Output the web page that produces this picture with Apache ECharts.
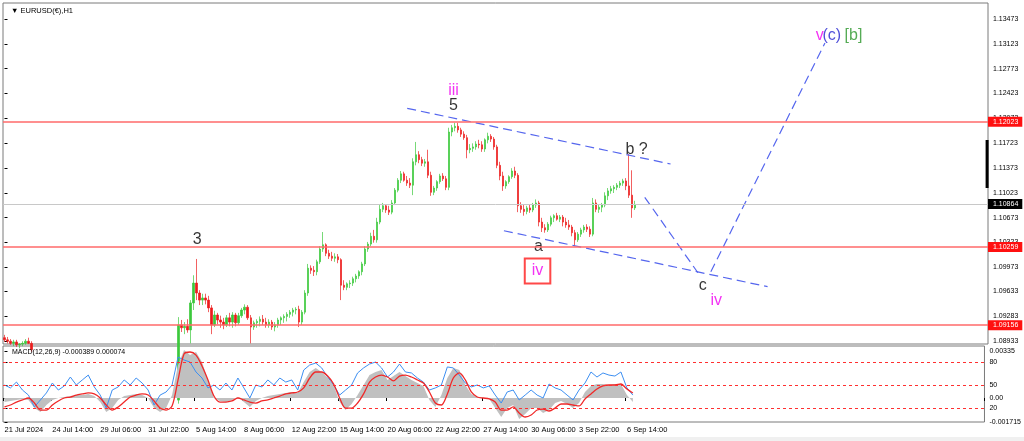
<!DOCTYPE html>
<html><head><meta charset="utf-8">
<script src="https://cdn.jsdelivr.net/npm/echarts@6/dist/echarts.min.js"></script>
<style>html,body{margin:0;padding:0;background:#f0f0f0;}#c{width:1024px;height:437px;background:#fff;}</style>
</head><body><div id="c"></div>
<script>
// ---------- DATA ----------
const symbolTitle = '▼ EURUSD(€),H1';
const macdTitle = 'MACD(12,26,9) -0.000389 0.000074';
const timeTicks = ['21 Jul 2024','24 Jul 14:00','29 Jul 06:00','31 Jul 22:00','5 Aug 14:00','8 Aug 06:00','12 Aug 22:00','15 Aug 14:00','20 Aug 06:00','22 Aug 22:00','27 Aug 14:00','30 Aug 06:00','3 Sep 22:00','6 Sep 14:00'];
const priceTicks = [1.08933,1.09283,1.09633,1.09973,1.10323,1.10673,1.11023,1.11373,1.11723,1.12073,1.12423,1.12773,1.13123,1.13473];
const levelLines = [1.12023,1.10259,1.09156];
const lastPrice = 1.10864;
const macdTickValues = [-0.001715,-0.000715,0,0.00093,0.002574,0.00335];
const macdTickLabels = ['-0.001715','20','0.00','50','80','0.00335'];
const macdLevels = [0.002574,0.00093,-0.000715];

// 4-hour bars, [open, close, low, high]
const candleOHLC = [
[1.0898,1.0895,1.0892,1.0902],[1.0895,1.0893,1.0890,1.0899],[1.0893,1.0890,1.0888,1.0896],[1.0890,1.0892,1.0886,1.0895],
[1.0892,1.0888,1.0885,1.0895],[1.0888,1.0889,1.0883,1.0890],[1.0889,1.0890,1.0886,1.0893],[1.0890,1.0893,1.0888,1.0896],
[1.0893,1.0890,1.0889,1.0898],[1.0890,1.0881,1.0878,1.0893],[1.0881,1.0870,1.0865,1.0884],[1.0870,1.0855,1.0850,1.0873],
[1.0855,1.0850,1.0846,1.0859],[1.0850,1.0845,1.0841,1.0854],[1.0845,1.0840,1.0836,1.0849],[1.0840,1.0835,1.0829,1.0843],
[1.0835,1.0830,1.0826,1.0839],[1.0830,1.0825,1.0820,1.0834],[1.0825,1.0840,1.0822,1.0843],[1.0840,1.0845,1.0836,1.0850],
[1.0845,1.0850,1.0840,1.0854],[1.0850,1.0860,1.0846,1.0864],[1.0860,1.0865,1.0854,1.0869],[1.0865,1.0855,1.0850,1.0868],
[1.0855,1.0850,1.0846,1.0859],[1.0850,1.0855,1.0847,1.0858],[1.0855,1.0860,1.0851,1.0864],[1.0860,1.0850,1.0846,1.0863],
[1.0850,1.0865,1.0848,1.0869],[1.0865,1.0858,1.0854,1.0868],[1.0858,1.0855,1.0852,1.0861],[1.0855,1.0850,1.0846,1.0858],
[1.0850,1.0840,1.0836,1.0853],[1.0840,1.0830,1.0826,1.0843],[1.0830,1.0820,1.0815,1.0833],[1.0820,1.0825,1.0817,1.0829],
[1.0825,1.0822,1.0818,1.0828],[1.0822,1.0818,1.0814,1.0826],[1.0818,1.0815,1.0811,1.0822],[1.0815,1.0820,1.0812,1.0824],
[1.0820,1.0810,1.0806,1.0823],[1.0810,1.0815,1.0807,1.0819],[1.0815,1.0818,1.0812,1.0821],[1.0818,1.0820,1.0814,1.0824],
[1.0820,1.0810,1.0806,1.0823],[1.0810,1.0825,1.0808,1.0829],[1.0825,1.0830,1.0821,1.0834],[1.0830,1.0825,1.0821,1.0833],
[1.0825,1.0820,1.0816,1.0828],[1.0820,1.0815,1.0811,1.0823],[1.0815,1.0810,1.0806,1.0818],[1.0810,1.0800,1.0795,1.0813],
[1.0800,1.0785,1.0778,1.0803],[1.0785,1.0790,1.0780,1.0794],[1.0790,1.0792,1.0786,1.0796],[1.0792,1.0795,1.0788,1.0799],
[1.0795,1.0800,1.0791,1.0804],[1.0800,1.0810,1.0796,1.0814],[1.0810,1.0916,1.0805,1.0927],[1.0916,1.0912,1.0906,1.0923],
[1.0912,1.0914,1.0903,1.0920],[1.0914,1.0909,1.0905,1.0924],[1.0909,1.0947,1.0890,1.0951],[1.0947,1.0975,1.0937,1.0986],
[1.0975,1.0961,1.0951,1.1009],[1.0961,1.0951,1.0944,1.0965],[1.0951,1.0954,1.0944,1.0960],[1.0954,1.0951,1.0945,1.0960],
[1.0951,1.0940,1.0934,1.0957],[1.0940,1.0916,1.0903,1.0944],[1.0916,1.0930,1.0913,1.0936],[1.0930,1.0923,1.0917,1.0933],
[1.0923,1.0920,1.0912,1.0929],[1.0920,1.0916,1.0910,1.0926],[1.0916,1.0926,1.0913,1.0930],[1.0926,1.0920,1.0914,1.0933],
[1.0920,1.0930,1.0912,1.0934],[1.0930,1.0919,1.0914,1.0933],[1.0919,1.0929,1.0916,1.0933],[1.0929,1.0937,1.0926,1.0940],
[1.0937,1.0941,1.0931,1.0945],[1.0941,1.0926,1.0923,1.0944],[1.0926,1.0913,1.0890,1.0930],[1.0913,1.0919,1.0909,1.0922],
[1.0919,1.0921,1.0912,1.0924],[1.0921,1.0924,1.0914,1.0928],[1.0924,1.0920,1.0916,1.0930],[1.0920,1.0916,1.0912,1.0926],
[1.0916,1.0920,1.0912,1.0924],[1.0920,1.0913,1.0909,1.0923],[1.0913,1.0916,1.0907,1.0920],[1.0916,1.0923,1.0912,1.0926],
[1.0923,1.0926,1.0916,1.0928],[1.0926,1.0928,1.0919,1.0931],[1.0928,1.0931,1.0921,1.0934],[1.0931,1.0934,1.0926,1.0937],
[1.0934,1.0937,1.0928,1.0940],[1.0937,1.0938,1.0931,1.0941],[1.0938,1.0920,1.0913,1.0943],[1.0920,1.0934,1.0916,1.0937],
[1.0934,1.0961,1.0931,1.0965],[1.0961,1.0996,1.0957,1.1002],[1.0996,1.0993,1.0988,1.1000],[1.0993,1.0991,1.0985,1.0999],
[1.0991,1.1005,1.0986,1.1008],[1.1005,1.1023,1.1002,1.1027],[1.1023,1.1029,1.1019,1.1047],[1.1029,1.1017,1.1013,1.1031],
[1.1017,1.1013,1.1009,1.1022],[1.1013,1.1010,1.1006,1.1019],[1.1010,1.1012,1.1005,1.1017],[1.1012,1.1008,1.1003,1.1016],
[1.1008,1.0972,1.0951,1.1010],[1.0972,1.0969,1.0965,1.0979],[1.0969,1.0974,1.0965,1.0976],[1.0974,1.0975,1.0968,1.0979],
[1.0975,1.0981,1.0971,1.0984],[1.0981,1.0985,1.0976,1.0988],[1.0985,1.0991,1.0981,1.0993],[1.0991,1.1002,1.0986,1.1005],
[1.1002,1.1023,1.0999,1.1027],[1.1023,1.1030,1.1019,1.1033],[1.1030,1.1041,1.1027,1.1046],[1.1041,1.1036,1.1032,1.1050],
[1.1036,1.1061,1.1032,1.1067],[1.1061,1.1079,1.1058,1.1085],[1.1079,1.1084,1.1075,1.1088],[1.1084,1.1078,1.1074,1.1086],
[1.1078,1.1075,1.1071,1.1084],[1.1075,1.1088,1.1072,1.1092],[1.1088,1.1106,1.1085,1.1109],[1.1106,1.1120,1.1103,1.1123],
[1.1120,1.1129,1.1116,1.1133],[1.1129,1.1120,1.1118,1.1132],[1.1120,1.1116,1.1112,1.1126],[1.1116,1.1113,1.1109,1.1123],
[1.1113,1.1146,1.1099,1.1151],[1.1146,1.1156,1.1141,1.1174],[1.1156,1.1149,1.1144,1.1161],[1.1149,1.1144,1.1140,1.1153],
[1.1144,1.1146,1.1139,1.1150],[1.1146,1.1127,1.1123,1.1163],[1.1127,1.1103,1.1098,1.1132],[1.1103,1.1109,1.1099,1.1112],
[1.1109,1.1118,1.1105,1.1120],[1.1118,1.1126,1.1115,1.1129],[1.1126,1.1122,1.1119,1.1130],[1.1122,1.1110,1.1106,1.1126],
[1.1110,1.1188,1.1106,1.1194],[1.1188,1.1194,1.1182,1.1198],[1.1194,1.1196,1.1189,1.1201],[1.1196,1.1191,1.1187,1.1201],
[1.1191,1.1185,1.1181,1.1194],[1.1185,1.1180,1.1177,1.1189],[1.1180,1.1163,1.1151,1.1184],[1.1163,1.1165,1.1158,1.1171],
[1.1165,1.1167,1.1160,1.1172],[1.1167,1.1171,1.1163,1.1175],[1.1171,1.1170,1.1165,1.1177],[1.1170,1.1164,1.1160,1.1175],
[1.1164,1.1177,1.1160,1.1179],[1.1177,1.1182,1.1172,1.1187],[1.1182,1.1178,1.1174,1.1185],[1.1178,1.1167,1.1163,1.1181],
[1.1167,1.1141,1.1137,1.1170],[1.1141,1.1126,1.1120,1.1146],[1.1126,1.1112,1.1105,1.1132],[1.1112,1.1118,1.1108,1.1120],
[1.1118,1.1125,1.1115,1.1127],[1.1125,1.1133,1.1122,1.1137],[1.1133,1.1127,1.1123,1.1139],[1.1127,1.1084,1.1075,1.1130],
[1.1084,1.1079,1.1074,1.1089],[1.1079,1.1076,1.1070,1.1085],[1.1076,1.1081,1.1072,1.1084],[1.1081,1.1078,1.1074,1.1086],
[1.1078,1.1085,1.1075,1.1088],[1.1085,1.1088,1.1081,1.1093],[1.1088,1.1061,1.1055,1.1091],[1.1061,1.1053,1.1047,1.1067],
[1.1053,1.1050,1.1046,1.1058],[1.1050,1.1058,1.1047,1.1061],[1.1058,1.1067,1.1055,1.1070],[1.1067,1.1070,1.1061,1.1072],
[1.1070,1.1065,1.1063,1.1074],[1.1065,1.1068,1.1061,1.1071],[1.1068,1.1061,1.1055,1.1071],[1.1061,1.1057,1.1053,1.1067],
[1.1057,1.1054,1.1050,1.1064],[1.1054,1.1046,1.1041,1.1057],[1.1046,1.1036,1.1027,1.1050],[1.1036,1.1044,1.1033,1.1047],
[1.1044,1.1050,1.1040,1.1053],[1.1050,1.1054,1.1046,1.1057],[1.1054,1.1051,1.1047,1.1058],[1.1051,1.1044,1.1040,1.1055],
[1.1044,1.1088,1.1041,1.1095],[1.1088,1.1079,1.1075,1.1093],[1.1079,1.1082,1.1074,1.1086],[1.1082,1.1085,1.1075,1.1088],
[1.1085,1.1098,1.1082,1.1103],[1.1098,1.1105,1.1092,1.1109],[1.1105,1.1108,1.1101,1.1112],[1.1108,1.1110,1.1102,1.1113],
[1.1110,1.1113,1.1106,1.1116],[1.1113,1.1116,1.1109,1.1119],[1.1116,1.1119,1.1112,1.1122],[1.1119,1.1112,1.1106,1.1123],
[1.1112,1.1099,1.1095,1.1157],[1.1099,1.1081,1.1067,1.1134],[1.1081,1.1086,1.1078,1.1091]
];

// MACD panel, one reading every 2nd bar
const macdHist = [
-0.00029,-0.00021,-0.00014,-0.00007,-0.00014,-0.00072,-0.00100,-0.00050,-0.00014,0,
0.00007,0.00014,0.00021,0.00021,0.00029,0.00014,-0.00029,-0.00100,-0.00072,-0.00014,
0.00014,0.00021,0.00029,0.00021,0,-0.00072,-0.00100,-0.00072,0.00021,0.00236,
0.00343,0.00307,0.00329,0.00257,0.00129,0,-0.00021,-0.00029,-0.00014,0.00007,
-0.00029,-0.00064,-0.00021,0,0.00014,0.00021,0.00029,0.00036,0.00043,0.00036,
0.00114,0.00186,0.00215,0.00186,0.00143,0.00093,-0.00029,-0.00086,-0.00043,0.00021,
0.00093,0.00164,0.00186,0.00200,0.00129,0.00157,0.00186,0.00157,0.00129,0.00107,
0.00086,-0.00014,-0.00064,0.00021,0.00143,0.00215,0.00200,0.00093,0.00029,0.00007,
0,-0.00007,-0.00072,-0.00136,-0.00072,-0.00050,-0.00150,-0.00114,-0.00072,-0.00072,
-0.00107,-0.00086,-0.00036,-0.00021,-0.00043,-0.00072,-0.00036,0.00043,0.00086,0.00100,
0.00100,0.00093,0.00100,0.00100,0.00021,-0.00029];
const macdSignal = [
-0.00064,-0.00050,-0.00029,-0.00014,0,-0.00036,-0.00086,-0.00086,-0.00050,-0.00021,
0,0.00007,0.00021,0.00029,0.00036,0.00029,0,-0.00050,-0.00086,-0.00064,
-0.00029,0.00007,0.00021,0.00029,0.00021,-0.00021,-0.00072,-0.00086,-0.00057,0.00129,
0.00315,0.00329,0.00307,0.00229,0.00129,0.00014,-0.00029,-0.00029,-0.00021,0,
-0.00014,-0.00029,-0.00036,-0.00021,-0.00014,0,0.00014,0.00029,0.00036,0.00043,
0.00072,0.00143,0.00186,0.00186,0.00157,0.00100,0,-0.00072,-0.00072,-0.00036,
0.00029,0.00114,0.00150,0.00164,0.00150,0.00122,0.00157,0.00164,0.00150,0.00129,
0.00107,0.00043,-0.00036,-0.00050,0.00029,0.00143,0.00179,0.00129,0.00043,0.00007,
0,-0.00007,-0.00029,-0.00086,-0.00086,-0.00064,-0.00107,-0.00136,-0.00122,-0.00086,
-0.00079,-0.00093,-0.00072,-0.00043,-0.00043,-0.00050,-0.00057,-0.00007,0.00029,0.00064,
0.00086,0.00093,0.00093,0.00100,0.00064,0.00036];
const macdFast = [
0.00093,0.00072,0.00114,0.00057,0.00021,-0.00064,-0.00014,0.00036,0.00107,0.00057,
0.00086,0.00150,0.00093,0.00129,0.00164,0.00079,0.00021,-0.00072,0.00057,0.00079,
0.00129,0.00093,0.00143,0.00107,0.00057,-0.00050,0.00021,0.00043,0.00093,0.00293,
0.00272,0.00257,0.00186,0.00143,0.00072,0.00093,0.00057,0.00107,0.00057,0.00143,
0.00072,0,0.00093,0.00079,0.00129,0.00093,0.00143,0.00114,0.00129,0.00057,
0.00200,0.00236,0.00250,0.00215,0.00150,0.00093,0.00021,0.00057,0.00093,0.00179,
0.00215,0.00243,0.00257,0.00215,0.00150,0.00186,0.00243,0.00186,0.00179,0.00143,
0.00114,0.00057,0.00072,0.00093,0.00222,0.00215,0.00164,0.00107,0.00079,0.00093,
0.00072,0.00086,0.00021,-0.00036,0.00043,0.00057,-0.00014,0.00021,0.00057,0.00021,
0,0.00100,0.00072,0.00057,0.00021,-0.00014,0.00057,0.00107,0.00186,0.00150,
0.00179,0.00164,0.00157,0.00186,0.00072,0.00021];

// Drawn objects, in (bar index, price)
const trendLines = [
  [[134.1,1.12214],[221.8,1.11429]],
  [[166.3,1.10488],[254.1,1.09699]],
  [[213.2,1.10959],[230.9,1.09896]],
  [[235.2,1.09910],[273.2,1.13135]]
];
const waveLabels = [
  {text:'iii', bar:149.5, price:1.12458, color:'#f000f0'},
  {text:'5',   bar:149.5, price:1.12246, color:'#000'},
  {text:'3',   bar:64.2,  price:1.10370, color:'#000'},
  {text:'b ?', bar:210.5, price:1.11626, color:'#000'},
  {text:'a',   bar:177.8, price:1.10258, color:'#000'},
  {text:'iv',  bar:177.5, price:1.09920, color:'#f000f0', boxed:true},
  {text:'c',   bar:232.5, price:1.09710, color:'#000'},
  {text:'iv',  bar:237.0, price:1.09500, color:'#f000f0'},
  {text:'v',   bar:271.5, price:1.13238, color:'#f000f0'},
  {text:'(c)', bar:275.5, price:1.13238, color:'#2323d0'},
  {text:'[b]', bar:282.7, price:1.13238, color:'#2a962a'}
];
const sideBar = [[327.2,1.11767],[327.2,1.11090]];

// ---------- CHART ----------
const FONT = '"Liberation Sans", Arial, sans-serif';
const N_SLOTS = 328, TICK_EVERY = 16, MACD_STEP = 2;
const categories = Array.from({length:N_SLOTS},(_,i)=> (i%TICK_EVERY===0 && timeTicks[i/TICK_EVERY]) ? timeTicks[i/TICK_EVERY] : '');
const showTick = (idx,val)=> val !== '';
const toXY = arr => arr.map((v,i)=>[i*MACD_STEP, v]);

const chart = echarts.init(document.getElementById('c'), null, {renderer:'canvas'});
const UP='#3cc83c', DOWN='#ec1c1c';

const markLineData = levelLines.map(v=>({
  yAxis:v, lineStyle:{color:'#ff6a6a',width:1.5,type:'solid'},
  label:{show:true,position:'end',distance:0,formatter:v.toFixed(5),color:'#fff',backgroundColor:'#ff1010',padding:[1,4,1,5],fontSize:7,fontFamily:FONT,lineHeight:8}
}));
markLineData.unshift({
  yAxis:lastPrice, lineStyle:{color:'#c8c8c8',width:1,type:'solid'},
  label:{show:true,position:'end',distance:0,formatter:lastPrice.toFixed(5),color:'#fff',backgroundColor:'#000',padding:[1,4,1,5],fontSize:7,fontFamily:FONT,lineHeight:8}
});

const series = [
  {
    type:'candlestick', xAxisIndex:0, yAxisIndex:0, data:candleOHLC, barWidth:2, clip:true,
    itemStyle:{color:UP,color0:DOWN,borderColor:UP,borderColor0:DOWN,borderWidth:0.7},
    markLine:{symbol:['none','none'],precision:6,silent:true,animation:false,data:markLineData}
  }
];
trendLines.forEach(l=>series.push({
  type:'line', xAxisIndex:2, yAxisIndex:0, data:l, symbol:'none', silent:true,
  lineStyle:{color:'#5566ee',width:1.2,type:[9,5]}
}));
series.push({type:'line', xAxisIndex:2, yAxisIndex:0, data:sideBar, symbol:'none', silent:true, lineStyle:{color:'#000',width:3}});
series.push({
  type:'scatter', xAxisIndex:2, yAxisIndex:0, symbolSize:1, silent:true, itemStyle:{color:'rgba(0,0,0,0)'},
  data: waveLabels.map(w=>({
    value:[w.bar,w.price],
    label:Object.assign({show:true,position:'inside',formatter:w.text,color:w.color,fontSize:16,fontFamily:FONT},
      w.boxed?{borderColor:'#ff1a1a',borderWidth:2,padding:[5,7,4,7]}:{})
  }))
});
series.push({type:'line', xAxisIndex:3, yAxisIndex:1, data:toXY(macdHist), symbol:'none', silent:true,
  lineStyle:{width:0}, itemStyle:{color:'#c0c0c0'}, areaStyle:{color:'#c0c0c0',opacity:1}});
series.push({type:'line', xAxisIndex:3, yAxisIndex:1, data:toXY(macdFast), symbol:'none', silent:true,
  lineStyle:{color:'#3d8ff2',width:1}});
series.push({type:'line', xAxisIndex:3, yAxisIndex:1, data:toXY(macdSignal), symbol:'none', silent:true, smooth:0.3,
  lineStyle:{color:'#f02828',width:1.3},
  markLine:{symbol:['none','none'],precision:7,silent:true,label:{show:false},
    data:macdLevels.map(v=>({yAxis:v})), lineStyle:{color:'#ff3030',width:1,type:[3,3]}}});

const option = {
  animation:false,
  backgroundColor:'#fff',
  title:[
    {text:symbolTitle,left:6,top:2,textStyle:{fontSize:7.5,fontWeight:'normal',color:'#000',fontFamily:FONT}},
    {text:macdTitle,left:7,top:344,textStyle:{fontSize:7,fontWeight:'normal',color:'#000',fontFamily:FONT}}
  ],
  grid:[
    {left:3,top:3,width:985,height:341,show:true,borderColor:'#7a7a7a',borderWidth:1},
    {left:3,top:346,width:985,height:76,show:true,borderColor:'#7a7a7a',borderWidth:1}
  ],
  xAxis:[
    {type:'category',gridIndex:0,data:categories,axisLine:{show:false},axisTick:{show:false},axisLabel:{show:false},splitLine:{show:false}},
    {type:'category',gridIndex:1,data:categories,axisLine:{show:false},
      axisTick:{show:true,interval:showTick,length:3,lineStyle:{color:'#000'}},
      axisLabel:{show:true,interval:showTick,align:'left',margin:4,fontSize:7.5,color:'#000',fontFamily:FONT},splitLine:{show:false}},
    {type:'value',gridIndex:0,min:-0.5,max:N_SLOTS-0.5,show:false},
    {type:'value',gridIndex:1,min:-0.5,max:N_SLOTS-0.5,show:false}
  ],
  yAxis:[
    {type:'value',gridIndex:0,position:'right',min:1.08891,max:1.13699,splitLine:{show:false},axisLine:{show:false},
      axisTick:{show:true,length:3,lineStyle:{color:'#000'},customValues:priceTicks},
      axisLabel:{show:true,customValues:priceTicks,formatter:v=>v.toFixed(5),fontSize:7,color:'#000',margin:5,fontFamily:FONT}},
    {type:'value',gridIndex:1,position:'right',min:-0.001716,max:0.003718,splitLine:{show:false},axisLine:{show:false},
      axisTick:{show:true,length:3,lineStyle:{color:'#000'},customValues:macdTickValues},
      axisLabel:{show:true,customValues:macdTickValues,formatter:v=>{const i=macdTickValues.indexOf(v);return i>=0?macdTickLabels[i]:'';},fontSize:7,color:'#000',margin:5,fontFamily:FONT}}
  ],
  series
};
chart.setOption(option);
</script></body></html>
